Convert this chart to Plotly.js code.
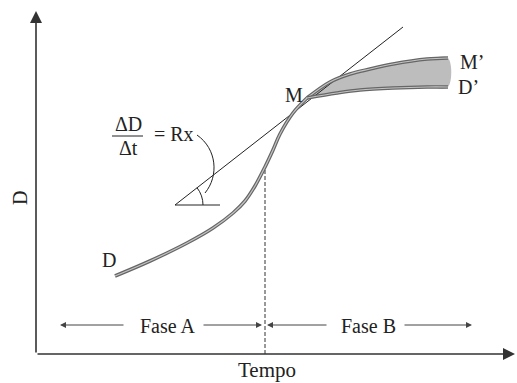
<!DOCTYPE html>
<html>
<head>
<meta charset="utf-8">
<script src="https://cdn.plot.ly/plotly-3.0.1.min.js"></script>
<style>html,body{margin:0;padding:0;background:#fff;}#chart{width:517px;height:383px;}</style>
</head>
<body>
<div id="chart"></div>
<script>
// Curve D (tempo, D)
var curveT = [79, 114, 151, 177, 197, 209, 219, 229, 237, 244, 257, 271];
var curveD = [78, 93, 111, 126, 141, 153, 168, 187, 204, 220, 241, 256];
// Branch M' (upper)
var upperT = [271, 294, 314, 334, 357, 391, 412];
var upperD = [256, 272, 280, 285, 290, 295, 296];
// Branch D' (lower)
var lowerT = [271, 301, 324, 357, 391, 412];
var lowerD = [256, 261, 264, 266, 267, 267];
// Tangent through M
var tangentT = [139, 367];
var tangentD = [149, 327];
var angleBaseT = [139, 184];
var angleBaseD = [149, 149];
// Inflection / phase boundary
var boundaryT = [229, 229];
var boundaryD = [0, 187];
// Labels
var labelText = ["D", "M", "M\u2019", "D\u2019"];
var labelT = [73, 258, 436, 432];
var labelD = [94, 259, 292, 267];

var font = {family: "Liberation Serif, Times New Roman, serif", size: 20, color: "#222"};
var tube = function (x, y) {
  return [
    {x: x, y: y, mode: "lines", line: {color: "#666", width: 3.6, shape: "spline"}, hoverinfo: "skip"},
    {x: x, y: y, mode: "lines", line: {color: "#c4c4c4", width: 1.2, shape: "spline"}, hoverinfo: "skip"}
  ];
};

var fillX = upperT.concat(lowerT.slice().reverse());
var fillY = upperD.concat(lowerD.slice().reverse());

var traces = [
  {x: fillX, y: fillY, mode: "lines", fill: "toself", line: {width: 0, shape: "spline"},
   fillcolor: "#bdbdbd", hoverinfo: "skip"},
  {x: tangentT, y: tangentD, mode: "lines", line: {color: "#222", width: 1}, hoverinfo: "skip"},
  {x: angleBaseT, y: angleBaseD, mode: "lines", line: {color: "#222", width: 1}, hoverinfo: "skip"},
  {x: boundaryT, y: boundaryD, mode: "lines", line: {color: "#333", width: 1, dash: "4px,2px"}, hoverinfo: "skip"}
].concat(tube(curveT, curveD), tube(upperT, upperD), tube(lowerT, lowerD));

// angle arc (geometry) built from the tangent
var cx = tangentT[0], cy = tangentD[0], r = 28;
var th = Math.atan((tangentD[1] - tangentD[0]) / (tangentT[1] - tangentT[0]));
var k = 4 / 3 * Math.tan(th / 4) * r;
var p0 = [cx + r, cy], p3 = [cx + r * Math.cos(th), cy + r * Math.sin(th)];
var p1 = [p0[0], p0[1] + k], p2 = [p3[0] + k * Math.sin(th), p3[1] - k * Math.cos(th)];
var arcPath = "M" + p0 + " C" + p1 + " " + p2 + " " + p3;

var shapes = [
  {type: "path", xref: "x", yref: "y", path: arcPath, line: {color: "#222", width: 1}},
  {type: "path", xref: "x", yref: "y", path: "M161,219 C181,205 183,178 169,161", line: {color: "#222", width: 1}},
  {type: "line", xref: "x", yref: "y", x0: 76, x1: 107, y0: 218, y1: 218, line: {color: "#222", width: 1}}
];

var arrow = function (headX, tailX, y, size, width, color) {
  return {x: headX, y: y, ax: tailX, ay: y, xref: "x", yref: "y", axref: "x", ayref: "y",
    text: "", showarrow: true, arrowhead: 2, arrowsize: size, arrowwidth: width, arrowcolor: color, standoff: 0};
};

var annotations = [
  // axes
  {x: 0, y: 343, ax: 0, ay: 0, xref: "x", yref: "y", axref: "x", ayref: "y", text: "", showarrow: true,
   arrowhead: 2, arrowsize: 1.5, arrowwidth: 1.6, arrowcolor: "#333", standoff: 0},
  arrow(479, 0, 0, 1.5, 1.6, "#333"),
  // phases
  arrow(24, 89, 29, 1.2, 1, "#444"),
  arrow(226, 166, 29, 1.2, 1, "#444"),
  arrow(231, 292, 29, 1.2, 1, "#444"),
  arrow(436, 367, 29, 1.2, 1, "#444"),
  {x: 132, y: 28, xref: "x", yref: "y", text: "Fase A", showarrow: false, font: font},
  {x: 332, y: 28, xref: "x", yref: "y", text: "Fase B", showarrow: false, font: font},
  {x: 231, y: -16, xref: "x", yref: "y", text: "Tempo", showarrow: false,
   font: {family: font.family, size: 21, color: font.color}},
  {x: -16, y: 156, xref: "x", yref: "y", text: "D", textangle: -90, showarrow: false, font: font},
  {x: 92, y: 230, xref: "x", yref: "y", text: "\u0394D", showarrow: false, font: font},
  {x: 92, y: 206, xref: "x", yref: "y", text: "\u0394t", showarrow: false, font: font},
  {x: 138, y: 220, xref: "x", yref: "y", text: "= Rx", showarrow: false, font: font}
];
for (var i = 0; i < labelText.length; i++) {
  annotations.push({x: labelT[i], y: labelD[i], xref: "x", yref: "y", text: labelText[i], showarrow: false, font: font});
}

var layout = {
  width: 517, height: 383,
  margin: {l: 0, r: 0, t: 0, b: 0},
  paper_bgcolor: "#fff", plot_bgcolor: "#fff",
  showlegend: false,
  xaxis: {range: [-36, 481], visible: false, fixedrange: true},
  yaxis: {range: [-29, 354], visible: false, fixedrange: true},
  shapes: shapes,
  annotations: annotations
};

Plotly.newPlot("chart", traces, layout, {staticPlot: true, displayModeBar: false});
</script>
</body>
</html>
